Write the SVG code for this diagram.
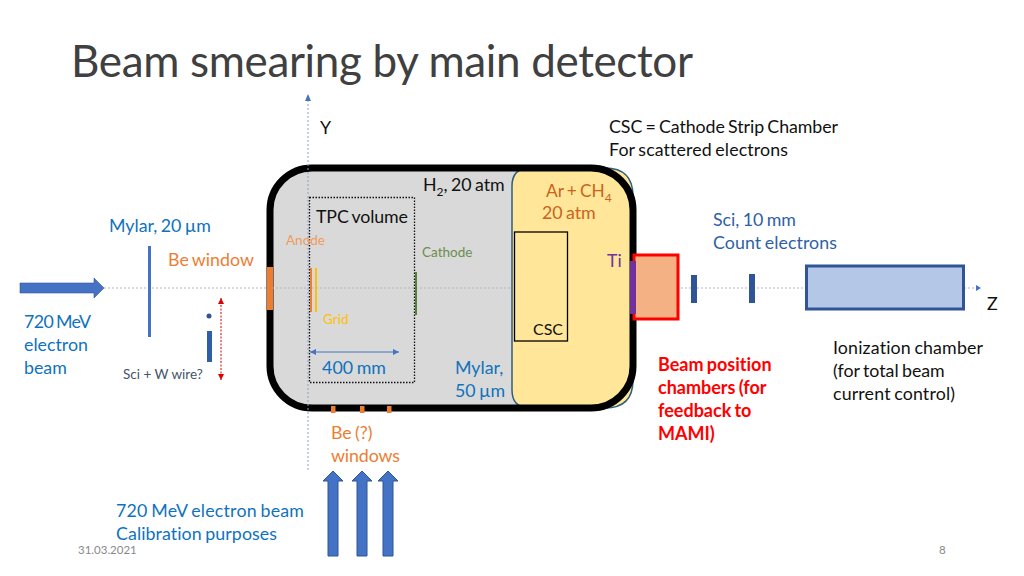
<svg xmlns="http://www.w3.org/2000/svg" width="1024" height="576" viewBox="0 0 1024 576">
<style>
text{font-family:Lato,"Open Sans","Liberation Sans",sans-serif;font-size:17.8px;word-spacing:-1.2px;fill:#111;font-variant-ligatures:none}
.blue{fill:#0f72bd}.or{fill:#ed7d31}.dk{fill:#2f5fa7}
.small{font-size:13.5px;word-spacing:0}
.red{fill:#ff0000;font-weight:700;font-size:18px}
.gas{fill:#c8641e}
.axis{stroke:#b4b4c8;stroke-width:1;stroke-dasharray:2 2;fill:none}
.vaxis{stroke:#8f9fd0;stroke-width:1;stroke-dasharray:2 2;fill:none}
.bar{fill:#2f5597}.win{fill:#ed7d31}.arrow{fill:#4472c4;stroke:#2f5597;stroke-width:1}
</style>
<defs>
<marker id="b" markerWidth="8" markerHeight="8" refX="6" refY="3" orient="auto-start-reverse" markerUnits="userSpaceOnUse"><path d="M0 0L6 3L0 6z" fill="#4472c4"/></marker>
<marker id="r" markerWidth="8" markerHeight="8" refX="6" refY="3" orient="auto-start-reverse" markerUnits="userSpaceOnUse"><path d="M0 0L6 3L0 6z" fill="#e00000"/></marker>
</defs>
<text id="title" x="71" y="77" textLength="622" style="font-size:44px;font-weight:400;fill:#404040;word-spacing:0">Beam smearing by main detector</text>
<g id="chamber">
<rect x="270" y="168" width="363" height="240" rx="42" fill="#d9d9d9"/>
<path d="M530 168H605Q633 168 633 196V380Q633 408 605 408H530Q512 408 512 390V186Q512 168 530 168Z" fill="#ffe699" stroke="#2f5f7f" stroke-width="1.5"/>
<rect x="270" y="168" width="363" height="240" rx="42" fill="none" stroke="#000" stroke-width="7"/>
</g>
<g id="connectors">
<path class="axis" d="M104 288H268M272 288H512M633 288H806M964 288H976"/>
<path d="M976 285L981 288L976 291z" fill="#4472c4"/>
<path class="vaxis" d="M308 470V100"/>
<path d="M305 101L308 94L311 101z" fill="#4472c4"/>
<path d="M310 352H399" stroke="#4472c4" fill="none" stroke-width="1" marker-start="url(#b)" marker-end="url(#b)"/>
<path d="M221 298V380" stroke="#e00000" stroke-dasharray="2 1.5" fill="none" stroke-width="1" marker-start="url(#r)" marker-end="url(#r)"/>
</g>
<g id="beam-arrow"><path d="M20 283H94V278L104 288L94 298V293H20z" fill="#4472c4" stroke="#2f5597" stroke-width=".6"/></g>
<g id="beam-calib">
<path class="arrow" d="M328 556V481H323L333 471L343 481H338V556z"/>
<path class="arrow" d="M357 556V481H352L362 471L372 481H367V556z"/>
<path class="arrow" d="M383 556V481H378L388 471L398 481H393V556z"/>
</g>
<g id="mylar20"><rect x="148" y="246" width="3" height="91" fill="#4472c4"/>
<text class="blue" x="109" y="232" textLength="102">Mylar, 20 µm</text></g>
<g id="be-window"><rect x="267" y="267" width="6" height="43" class="win"/>
<text class="or" x="168" y="266" textLength="86">Be window</text></g>
<g id="sci-wire"><circle cx="209" cy="316" r="2.5" fill="#2f5597"/><rect x="207" y="331" width="5" height="31" fill="#2f5fa7"/>
<text x="123" y="379" class="small" style="fill:#44546a">Sci + W wire?</text></g>
<g id="beam-label"><text class="blue" x="24" y="328" textLength="67">720 MeV</text><text class="blue" x="24" y="351">electron</text><text class="blue" x="24" y="374">beam</text></g>
<g id="y-label"><text x="320" y="134">Y</text></g>
<g id="h2"><text x="423" y="191">H<tspan dy="5" style="font-size:12px">2</tspan><tspan dy="-5">, 20 atm</tspan></text></g>
<g id="tpc"><rect x="309.500" y="197.500" width="105" height="185" fill="none" stroke="#111" stroke-width="1.3" stroke-dasharray="1.500 1.500"/>
<text x="316" y="223" textLength="92">TPC volume</text></g>
<g id="anode"><rect x="310" y="268" width="2" height="44" class="win"/><text x="286" y="245" class="small" style="fill:#f09a60">Anode</text></g>
<g id="grid"><rect x="315" y="268" width="2" height="44" fill="#ffc000"/><text x="323" y="324" class="small" style="fill:#ffc000">Grid</text></g>
<g id="cathode"><rect x="415" y="272" width="2" height="43" fill="#548235"/><text x="422" y="257" class="small" style="fill:#6b8e4e">Cathode</text></g>
<g id="len"><text class="blue" x="322" y="374" textLength="64">400 mm</text></g>
<g id="mylar50"><text class="blue" x="455" y="374">Mylar,</text><text class="blue" x="455" y="397">50 µm</text></g>
<g id="be-windows"><rect x="331" y="406" width="4.500" height="7" class="win"/><rect x="360" y="406" width="4.500" height="7" class="win"/><rect x="387" y="406" width="4.500" height="7" class="win"/>
<text class="or" x="331" y="439">Be (?)</text><text class="or" x="331" y="462" textLength="69">windows</text></g>
<g id="gas"><text x="546" y="197" class="gas" style="font-size:17.3px">Ar + CH<tspan dy="5" class="gas" style="font-size:12px">4</tspan></text><text x="542" y="219" class="gas">20 atm</text></g>
<g id="csc"><rect x="514.500" y="232" width="53" height="109" fill="none" stroke="#000" stroke-width="1.3"/><text x="533" y="335" style="font-size:16px">CSC</text></g>
<g id="bpc"><rect x="634" y="255" width="44" height="64" fill="#f4b183" stroke="#ff0000" stroke-width="3"/>
<text x="658" y="371" class="red">Beam position</text>
<text x="658" y="394" class="red">chambers (for</text>
<text x="658" y="417" class="red">feedback to</text>
<text x="658" y="440" class="red">MAMI)</text></g>
<g id="ti"><rect x="630" y="261" width="6" height="53" fill="#7030a0"/><text x="607" y="267" style="fill:#7030a0">Ti</text></g>
<g id="sci"><rect x="691" y="275" width="6" height="28" class="bar"/><rect x="749" y="274" width="6" height="29" class="bar"/></g>
<g id="sci-label"><text class="dk" x="713" y="226">Sci, 10 mm</text><text class="dk" x="713" y="249" textLength="124">Count electrons</text></g>
<g id="ion"><rect x="806.500" y="266" width="157" height="43" fill="#b4c7e7" stroke="#2f5597" stroke-width="3"/>
<text x="833" y="354" textLength="150">Ionization chamber</text><text x="833" y="377">(for total beam</text><text x="833" y="400" textLength="122">current control)</text></g>
<g id="z"><text x="987" y="310">Z</text></g>
<g id="csc-note"><text x="609" y="133" textLength="229">CSC = Cathode Strip Chamber</text><text x="609" y="156" textLength="179">For scattered electrons</text></g>
<g id="calib"><text class="blue" x="116" y="517" textLength="188">720 MeV electron beam</text><text class="blue" x="116" y="540" textLength="161">Calibration purposes</text></g>
<text id="date" x="78" y="554" style="font-size:11.500px;word-spacing:0;fill:#898989">31.03.2021</text>
<text id="page" x="939" y="554" style="font-size:11.500px;word-spacing:0;fill:#898989">8</text>
</svg>
